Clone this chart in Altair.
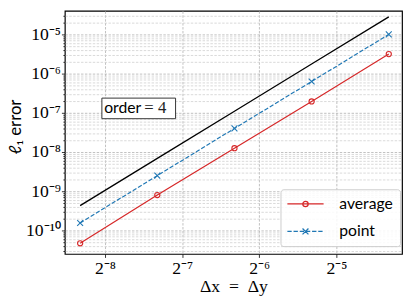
import altair as alt
import pandas as pd

# ---- data ----
dx = [1 / 320, 1 / 160, 1 / 80, 1 / 40, 1 / 20]
err_average = [4.7e-11, 8.0e-10, 1.25e-8, 1.95e-7, 3.15e-6]
err_point = [1.55e-10, 2.5e-9, 4.0e-8, 6.3e-7, 1.0e-5]
err_reference = [4.3e-10, 6.9e-9, 1.1e-7, 1.76e-6, 2.8e-5]

series_names = ["average", "point"]
series_colors = ["#d62728", "#1f77b4"]

x_ticks = [2 ** -8, 2 ** -7, 2 ** -6, 2 ** -5]
x_tick_labels = ["2⁻⁸", "2⁻⁷", "2⁻⁶", "2⁻⁵"]
y_major = [1e-10, 1e-9, 1e-8, 1e-7, 1e-6, 1e-5]
y_major_labels = ["10⁻¹⁰", "10⁻⁹", "10⁻⁸", "10⁻⁷", "10⁻⁶", "10⁻⁵"]

x_domain = [2 ** -8.52, 2 ** -4.15]
y_domain = [10 ** -10.6, 10 ** -4.4]

# annotation box "order = 4" (data coordinates)
ann_box_x = [2 ** -8.04, 2 ** -7.085]
ann_box_y = [10 ** -6.625, 10 ** -7.15]
ann_text_x = [2 ** -7.53, 2 ** -7.49]
ann_text_y = 10 ** -6.89

# ---- tables ----
df_avg = pd.DataFrame({"dx": dx, "err": err_average, "series": series_names[0]})
df_pt = pd.DataFrame({"dx": dx, "err": err_point, "series": series_names[1]})
df = pd.concat([df_avg, df_pt], ignore_index=True)
df_ref = pd.DataFrame({"dx": dx, "err": err_reference})
df_box = pd.DataFrame({"x1": [ann_box_x[0]], "x2": [ann_box_x[1]],
                       "y1": [ann_box_y[0]], "y2": [ann_box_y[1]]})
df_t1 = pd.DataFrame({"x": [ann_text_x[0]], "y": [ann_text_y], "t": ["order"]})
df_t2 = pd.DataFrame({"x": [ann_text_x[1]], "y": [ann_text_y], "t": ["= 4"]})

# y tick values (major + minor)
y_values = []
for k in range(-11, -3):
    for m in range(1, 10):
        v = m * 10.0 ** k
        if y_domain[0] <= v <= y_domain[1]:
            y_values.append(v)

y_label_expr = ""
for v, lab in zip(y_major, y_major_labels):
    y_label_expr += f"abs(datum.value/{v} - 1) < 0.001 ? '{lab}' : "
y_label_expr += "''"
x_label_expr = ""
for v, lab in zip(x_ticks, x_tick_labels):
    x_label_expr += f"abs(datum.value/{v} - 1) < 0.001 ? '{lab}' : "
x_label_expr += "''"

major_test = "abs(log(datum.value)/LN10 - round(log(datum.value)/LN10)) < 0.001"

x_scale = alt.Scale(type="log", base=2, domain=x_domain, nice=False)
y_scale = alt.Scale(type="log", domain=y_domain, nice=False)

x_axis = alt.Axis(
    values=x_ticks, labelExpr=x_label_expr, title="Δx\u2002=\u2002Δy",
    grid=True, gridDash=[2.5, 1.5], gridColor="#b0b0b0", gridWidth=0.8,
    domain=False, tickSize=3.5, tickColor="black", tickWidth=0.8,
    labelFont="Liberation Serif", labelFontSize=18, labelColor="black",
    labelBaseline="alphabetic", labelPadding=16.5,
    titleFont="Liberation Serif", titleFontSize=18, titleFontWeight="normal",
    titleColor="black", titleBaseline="alphabetic", titleY=38,
)
y_axis = alt.Axis(
    values=y_values, labelExpr=y_label_expr, title="ℓ₁ error",
    grid=True, gridDash=[2.5, 1.5], gridWidth=0.8,
    gridColor={"condition": {"test": major_test, "value": "#b0b0b0"}, "value": "#cfcfcf"},
    tickSize={"condition": {"test": major_test, "value": 3.5}, "value": 2},
    domain=False, tickColor="black", tickWidth=0.8,
    labelFont="Liberation Serif", labelFontSize=18, labelColor="black",
    labelBaseline="alphabetic", labelOffset=5, labelPadding=1,
    labelOverlap=False,
    titleFont="Lato", titleFontSize=17, titleFontWeight="normal",
    titleColor="black", titleBaseline="alphabetic", titleX=-45, titleY=118,
)

color_scale = alt.Scale(domain=series_names, range=series_colors)

# legend symbol paths (line + marker), scale = sqrt(size)/2 = 7 px
legend_paths = [
    "M-1.14,0L4.14,0M1.11,0A0.39,0.39 0 1,0 1.89,0A0.39,0.39 0 1,0 1.11,0",
    "M-1.14,0L-0.51,0M-0.24,0L0.39,0M0.66,0L1.29,0M1.56,0L2.19,0M2.46,0L3.09,0"
    "M3.36,0L3.99,0M1.07,-0.43L1.93,0.43M1.07,0.43L1.93,-0.43",
]
x_marker = "M-1,-1L1,1M-1,1L1,-1"

legend = alt.Legend(
    title=None, orient="none", legendX=220, legendY=182, padding=7,
    fillColor="rgba(255,255,255,0.85)", strokeColor="#cccccc", cornerRadius=3,
    labelFont="Lato", labelFontSize=16, labelColor="black",
    symbolSize=196, symbolStrokeWidth=1.3, symbolOpacity=1,
    labelOffset=37, rowPadding=12,
)

X = alt.X("dx:Q", scale=x_scale, axis=x_axis)
Y = alt.Y("err:Q", scale=y_scale, axis=y_axis)

ref_line = alt.Chart(df_ref).mark_line(color="black", strokeWidth=1.3).encode(x=X, y=Y)

line_avg = alt.Chart(df_avg).mark_line(strokeWidth=1.2, color=series_colors[0]).encode(
    x="dx:Q", y="err:Q")
line_pt = alt.Chart(df_pt).mark_line(strokeWidth=1.2, color=series_colors[1],
                                     strokeDash=[4.4, 1.9]).encode(x="dx:Q", y="err:Q")

avg_pts = alt.Chart(df_avg).mark_point(
    shape="circle", filled=False, size=28, strokeWidth=1.1, opacity=1, color=series_colors[0]
).encode(x="dx:Q", y="err:Q")
pt_pts = alt.Chart(df_pt).mark_point(
    shape=x_marker, filled=False, size=36, strokeWidth=1.1, opacity=1, color=series_colors[1]
).encode(x="dx:Q", y="err:Q")

legend_layer = alt.Chart(df).mark_point(filled=False, opacity=0).encode(
    x="dx:Q", y="err:Q",
    color=alt.Color("series:N", scale=color_scale, legend=legend),
    shape=alt.Shape("series:N", scale=alt.Scale(domain=series_names, range=legend_paths),
                    legend=legend),
)

box = alt.Chart(df_box).mark_rect(fill="white", stroke="#333333", strokeWidth=1).encode(
    x="x1:Q", x2="x2:Q", y="y1:Q", y2="y2:Q"
)
t1 = alt.Chart(df_t1).mark_text(font="Lato", fontSize=16, align="right",
                                baseline="middle", color="black").encode(
    x="x:Q", y="y:Q", text="t:N")
t2 = alt.Chart(df_t2).mark_text(font="Liberation Serif", fontSize=17, align="left",
                                baseline="middle", color="#222222").encode(
    x="x:Q", y="y:Q", text="t:N")

chart = alt.layer(ref_line, line_avg, line_pt, avg_pts, pt_pts, legend_layer,
                  box, t1, t2).properties(
    width=344, height=248,
    autosize=alt.AutoSizeParams(type="none"),
    padding={"left": 58, "top": 0, "right": 2, "bottom": 43},
).configure_view(stroke="black", strokeWidth=1.2)

chart.save("out.html", embed_options={"renderer": "svg", "actions": False})
